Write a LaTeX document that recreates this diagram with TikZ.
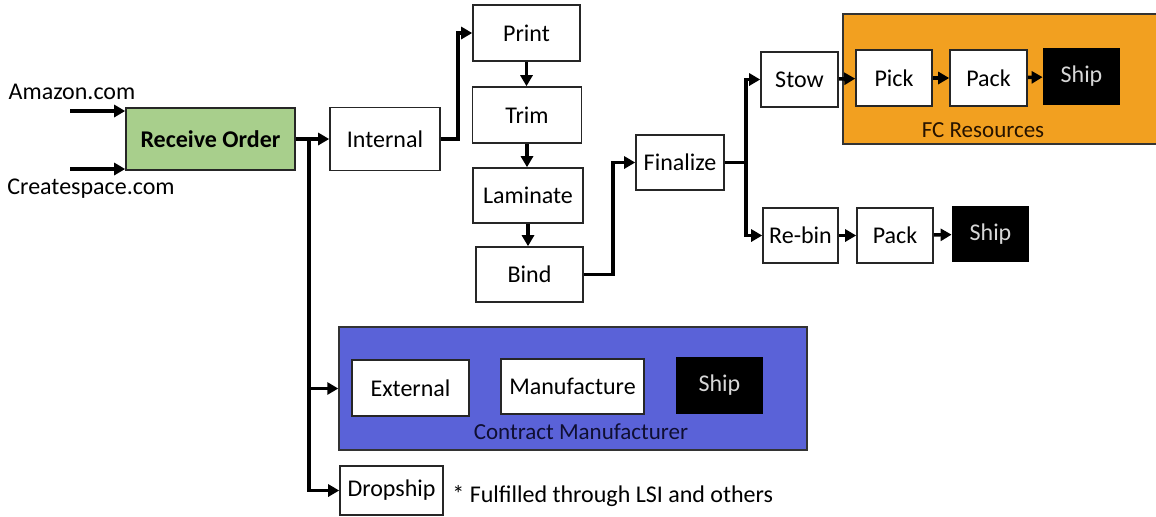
\documentclass[tikz,border=0pt]{standalone}
\usepackage{fontspec}
\setmainfont{Carlito}
\usetikzlibrary{arrows.meta, positioning, calc}
\definecolor{ordergreen}{RGB}{168,207,140}
\definecolor{fcorange}{RGB}{242,160,32}
\definecolor{cmblue}{RGB}{90,98,216}
\definecolor{shiptext}{RGB}{215,215,215}
\definecolor{cmtext}{RGB}{15,15,50}
\newcommand\diagfont{\fontsize{12}{14}\selectfont}
\tikzset{
  stepbox/.style = {
    draw=black!85, fill=white, line width=0.8pt,
    minimum height=28pt, inner sep=2pt,
    font=\diagfont
  },
  shipbox/.style = {
    fill=black, text=shiptext,
    minimum height=28.5pt, inner sep=2pt,
    font=\diagfont
  },
  group/.style = {draw=black!80, line width=0.7pt, inner sep=0pt},
  lbl/.style   = {font=\diagfont, inner sep=0pt},
  link/.style  = {-{Triangle[length=5.5pt,width=6pt]},
                  line width=1.7pt, black}
}

\begin{document}
\begin{tikzpicture}[x=0.5pt, y=-0.5pt]
  \useasboundingbox (0,0) rectangle (1156,516);

  %% Group backgrounds
  \node[group, fill=fcorange, minimum width=159.5pt, minimum height=65pt]
    (fc) at (1002.5,79) {};
  \node[group, fill=cmblue, minimum width=234pt, minimum height=61.5pt]
    (cm) at (573,388.5) {};
  \node[lbl, font=\fontsize{11.5}{14}\selectfont, text=black!85!orange] (fclbl) at (983,130) {FC Resources};
  \node[lbl, font=\fontsize{11.5}{14}\selectfont, text=cmtext] (cmlbl) at (581,432) {Contract Manufacturer};

  %% Incoming orders
  \node[lbl] (amazon) at (72,92) {Amazon.com};
  \node[lbl] (cspace) at (91,189) {Createspace.com};
  \node[stepbox, fill=ordergreen, minimum width=84.5pt, minimum height=31pt,
        font=\diagfont\bfseries] (recv) at (210.5,139) {Receive Order};
  \coordinate (inA) at (70,111);
  \coordinate (inC) at (70,169);
  \draw[link] (inA) -- (inA -| recv.west);
  \draw[link] (inC) -- (inC -| recv.west);

  %% Internal printing
  \node[stepbox, minimum width=55pt, minimum height=31.5pt] (internal) at (385,139) {Internal};
  \node[stepbox, minimum width=53.5pt] (print) at (526.5,33) {Print};
  \node[stepbox, minimum width=54.5pt] (trim) at (527,115) {Trim};
  \node[stepbox, minimum width=55pt, minimum height=27.5pt] (laminate) at (528,195.5) {Laminate};
  \node[stepbox, minimum width=53.5pt, minimum height=27.5pt] (bind) at (529.5,274.5) {Bind};
  \node[stepbox, minimum width=44pt, minimum height=27.5pt] (finalize) at (680,162.5) {Finalize};

  %% FC branch
  \node[stepbox, minimum width=38.5pt, minimum height=27.5pt] (stow) at (799.5,79.5) {Stow};
  \node[stepbox, minimum width=38pt] (pick) at (894,78) {Pick};
  \node[stepbox, minimum width=38.5pt] (pack) at (988.5,78) {Pack};
  \node[shipbox, minimum width=38.5pt] (ship) at (1081.5,76.5) {Ship};

  %% Re-bin branch
  \node[stepbox, minimum width=37.5pt, minimum height=27.5pt] (rebin) at (800.5,235.5) {Re-bin};
  \node[stepbox, minimum width=38pt, minimum height=27.5pt] (packb) at (895,235.5) {Pack};
  \node[shipbox, minimum width=38.5pt, minimum height=28pt] (shipb) at (990.5,234) {Ship};

  %% Contract manufacturer
  \node[stepbox, minimum width=58.5pt] (external) at (410.5,388) {External};
  \node[stepbox, minimum width=71.5pt, minimum height=27.5pt] (manuf) at (572.5,386.5) {Manufacture};
  \node[shipbox, minimum width=43.5pt] (shipc) at (719.5,385.5) {Ship};

  %% Dropship
  \node[stepbox, minimum width=51.5pt, minimum height=24.5pt] (drop) at (391.5,490.5) {Dropship};
  \node[lbl, anchor=west] (note) at (452,496) {* Fulfilled through LSI and others};

  %% Connectors
  \coordinate (split) at ($(recv.east)+(13,0)$);
  \draw[line width=1.7pt] (recv.east) -- (split);
  \draw[link] (split) -- (internal.west);
  \draw[link] (split) |- (cm.west);
  \draw[link] (split) |- (drop.west);

  \draw[link] (internal.east) -- ++(17,0) |- (print.west);
  \draw[link] (print.south) -- (print.south |- trim.north);
  \draw[link] (trim.south) -- (trim.south |- laminate.north);
  \draw[link] (laminate.south) -- (laminate.south |- bind.north);
  \draw[link] (bind.east) -- ++(29,0) |- (finalize.west);

  \coordinate (fsplit) at ($(finalize.east)+(21,0)$);
  \draw[line width=1.7pt] (finalize.east) -- (fsplit);
  \draw[link] (fsplit) |- (stow.west);
  \draw[link] (fsplit) |- (rebin.west);

  \draw[link] (stow) -- (pick);
  \draw[link] (pick) -- (pack);
  \draw[link] (pack) -- (ship);
  \draw[link] (rebin) -- (packb);
  \draw[link] (packb) -- (shipb);

\end{tikzpicture}
\end{document}
